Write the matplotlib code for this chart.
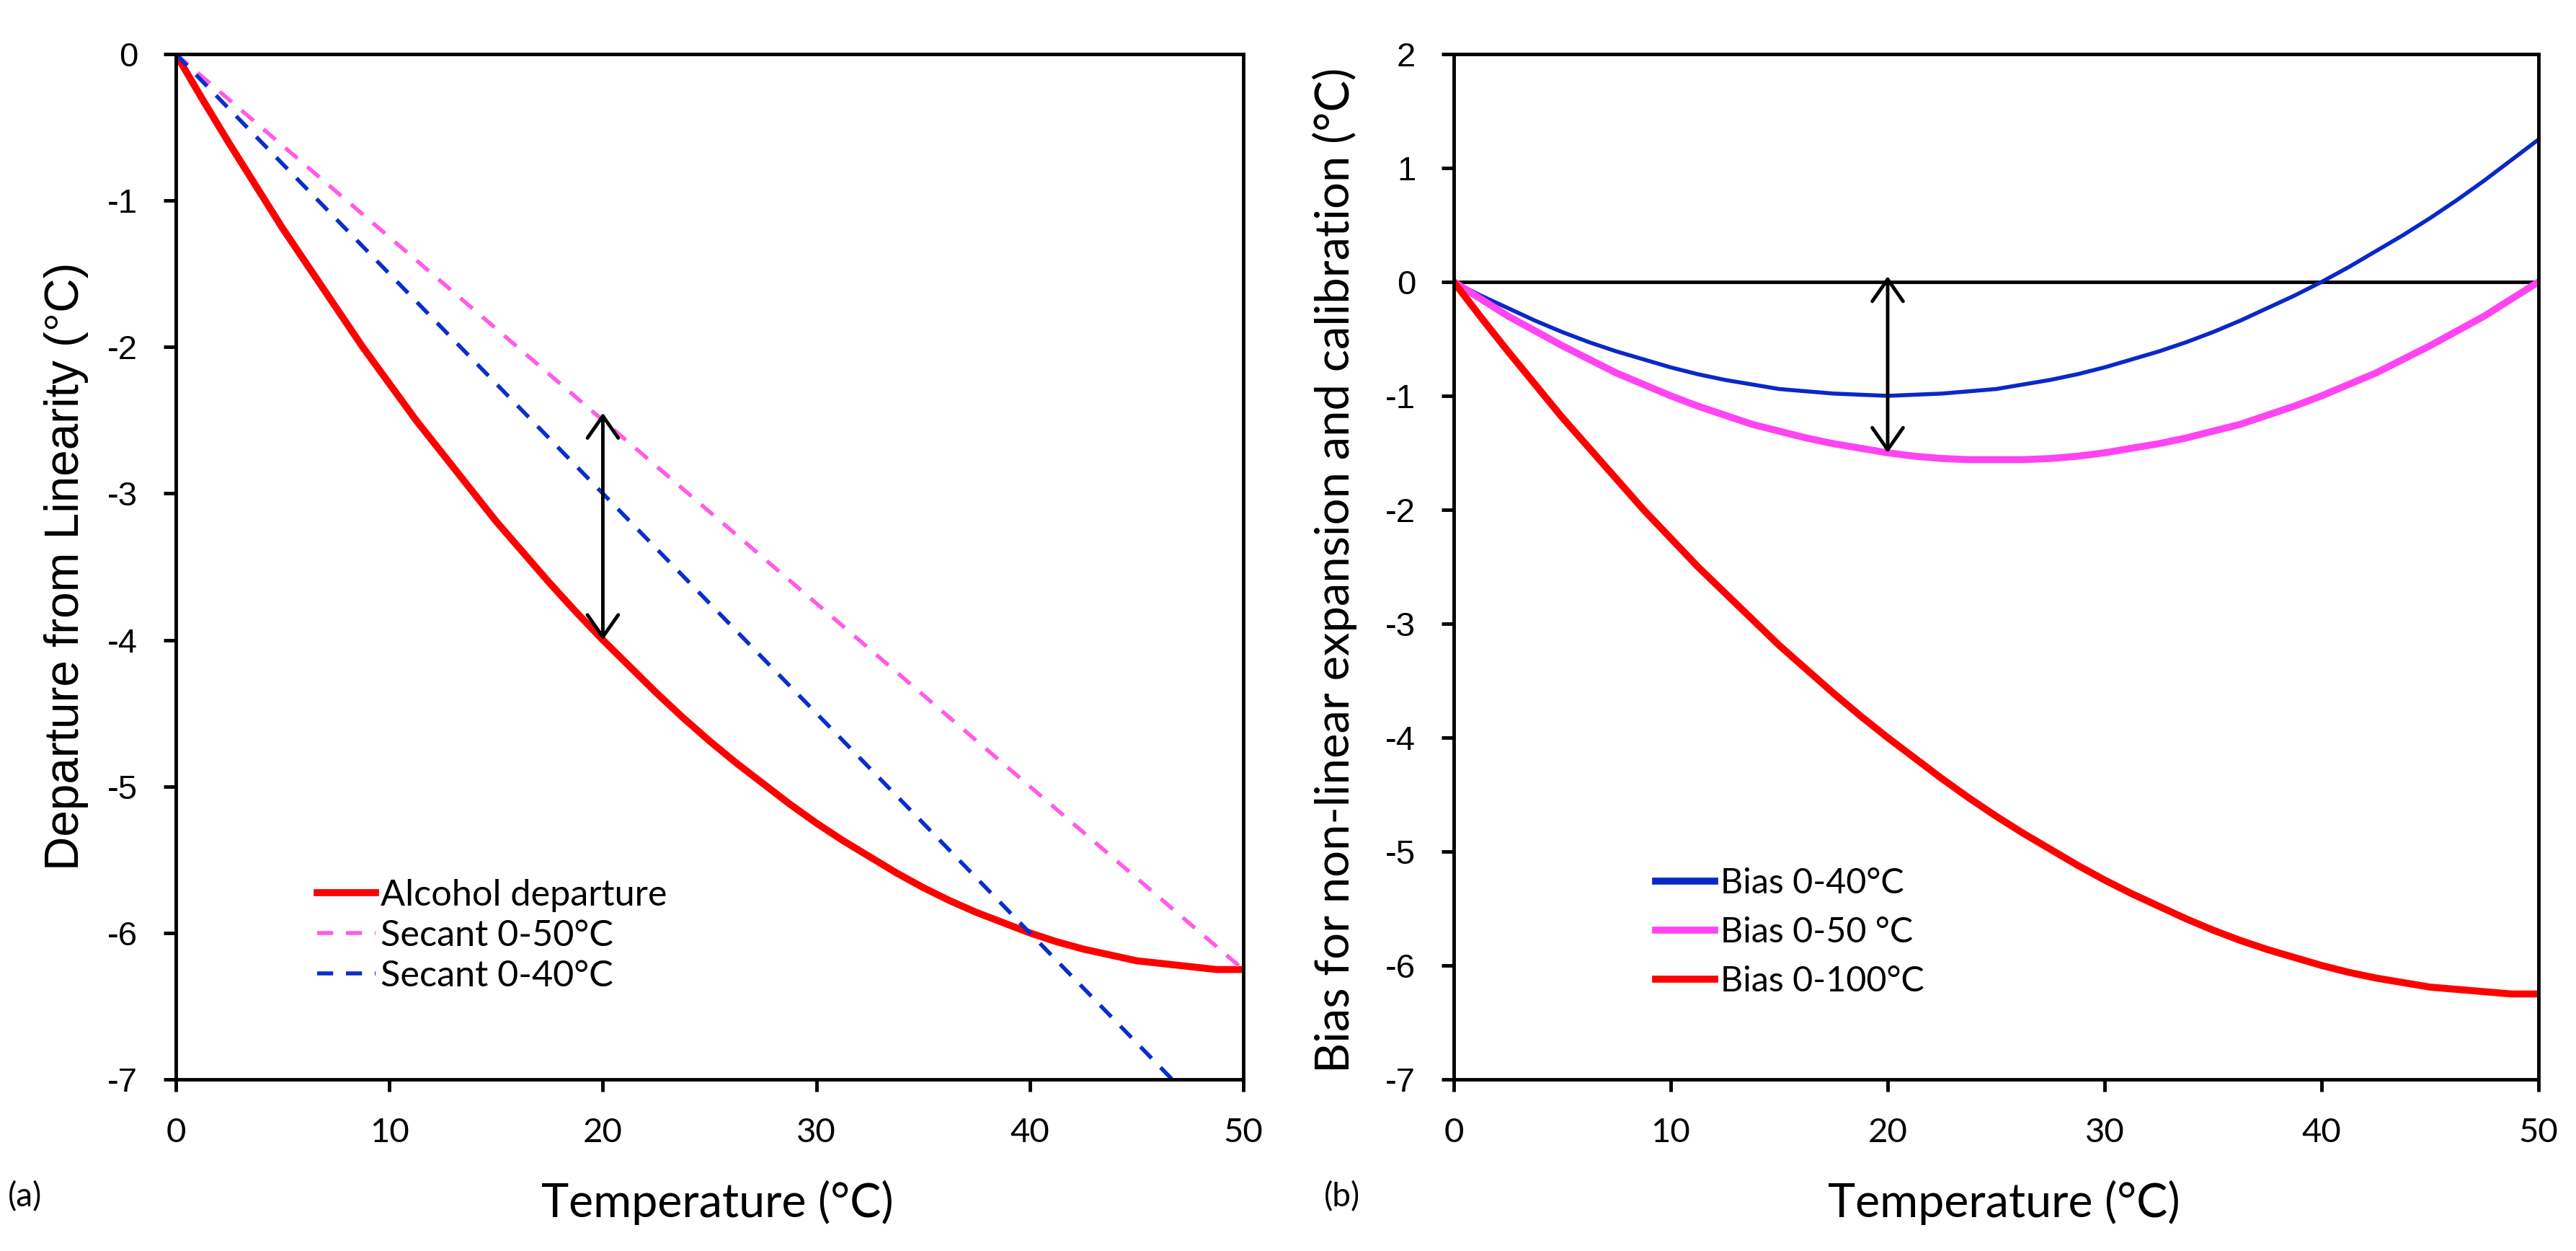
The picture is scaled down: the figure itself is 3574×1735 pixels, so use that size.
import numpy as np
import matplotlib.pyplot as plt

plt.rcParams['font.family'] = ['Lato', 'DejaVu Sans']
plt.rcParams['axes.unicode_minus'] = False

# temperature grid (deg C)
temp = [0, 1.25, 2.5, 3.75, 5, 6.25, 7.5, 8.75, 10, 11.25, 12.5, 13.75, 15,
        16.25, 17.5, 18.75, 20, 21.25, 22.5, 23.75, 25, 26.25, 27.5, 28.75,
        30, 31.25, 32.5, 33.75, 35, 36.25, 37.5, 38.75, 40, 41.25, 42.5,
        43.75, 45, 46.25, 47.5, 48.75, 50]

# (a) departure of the alcohol thermometer from linearity
alcohol_dep = [0, -0.31, -0.61, -0.90, -1.19, -1.46, -1.73, -2.00, -2.25,
               -2.50, -2.73, -2.96, -3.19, -3.40, -3.61, -3.81, -4.00, -4.18,
               -4.36, -4.53, -4.69, -4.84, -4.98, -5.12, -5.25, -5.37, -5.48,
               -5.59, -5.69, -5.78, -5.86, -5.93, -6.00, -6.06, -6.11, -6.15,
               -6.19, -6.21, -6.23, -6.25, -6.25]
secant_x = [0, 50]
secant50 = [0, -6.25]
secant40 = [0, -7.5]

# (b) bias for non-linear expansion and calibration
bias40 = [0, -0.12, -0.23, -0.34, -0.44, -0.53, -0.61, -0.68, -0.75, -0.81,
          -0.86, -0.90, -0.94, -0.96, -0.98, -0.99, -1.00, -0.99, -0.98,
          -0.96, -0.94, -0.90, -0.86, -0.81, -0.75, -0.68, -0.61, -0.53,
          -0.44, -0.34, -0.23, -0.12, 0, 0.13, 0.27, 0.41, 0.56, 0.72, 0.89,
          1.07, 1.25]
bias50 = [0, -0.15, -0.30, -0.43, -0.56, -0.68, -0.80, -0.90, -1.00, -1.09,
          -1.17, -1.25, -1.31, -1.37, -1.42, -1.46, -1.50, -1.53, -1.55,
          -1.56, -1.56, -1.56, -1.55, -1.53, -1.50, -1.46, -1.42, -1.37,
          -1.31, -1.25, -1.17, -1.09, -1.00, -0.90, -0.80, -0.68, -0.56,
          -0.43, -0.30, -0.15, 0]
bias100 = alcohol_dep

xticks = [0, 10, 20, 30, 40, 50]
yticks_a = [0, -1, -2, -3, -4, -5, -6, -7]
yticks_b = [2, 1, 0, -1, -2, -3, -4, -5, -6, -7]

RED = '#ff0000'
PINK_D = '#ff5ce6'
BLUE_D = '#0a2ecc'
PINK = '#ff44f2'
BLUE = '#0a28c8'
ARIAL = ['Liberation Sans', 'DejaVu Sans']

W, H = 3574., 1735.
fig = plt.figure(figsize=(W / 100, H / 100), dpi=100)
renderer = fig.canvas.get_renderer()
ax1 = fig.add_axes([244 / W, 1 - 1497 / H, 1481 / W, 1422 / H])
ax2 = fig.add_axes([2017 / W, 1 - 1497 / H, 1505 / W, 1422 / H])


def fit_size(s, target, rotation=0, **kw):
    # font size that makes string s span `target` pixels
    t = fig.text(0, 0, s, fontsize=40, rotation=rotation, **kw)
    bb = t.get_window_extent(renderer)
    t.remove()
    span = bb.height if rotation else bb.width
    return 40 * target / span


arrow = dict(arrowstyle='<->,head_length=0.4,head_width=0.28', lw=3.5,
             color='black', mutation_scale=55, shrinkA=0, shrinkB=0)

for ax in (ax1, ax2):
    for s in ax.spines.values():
        s.set_linewidth(3.5)
    ax.tick_params(direction='out', length=12, width=3.5, labelsize=34)
    ax.tick_params(axis='y', pad=26)
    ax.tick_params(axis='x', pad=26)
    ax.set_xlim(0, 50)
    ax.set_xticks(xticks)

# ---- panel (a)
ax1.plot(temp, alcohol_dep, color=RED, lw=7, label='Alcohol departure')
ax1.plot(secant_x, secant50, color=PINK_D, lw=4, dashes=(4, 3.2),
         label='Secant 0-50°C')
ax1.plot(secant_x, secant40, color=BLUE_D, lw=4, dashes=(4, 3.2),
         label='Secant 0-40°C')
ax1.annotate('', xy=(20, -4.0), xytext=(20, -2.45), arrowprops=arrow)
ax1.set_ylim(-7, 0)
ax1.set_yticks(yticks_a)
ax1.legend(loc='center left', bbox_to_anchor=(0.1323, 0.140), frameon=False,
           fontsize=fit_size('Alcohol departure', 398), borderpad=0,
           borderaxespad=0, handlelength=1.6, handletextpad=0.15,
           labelspacing=0.2)

# ---- panel (b)
ax2.axhline(0, color='black', lw=3.5, zorder=1.5)
ax2.plot(temp, bias40, color=BLUE, lw=4, label='Bias 0-40°C')
ax2.plot(temp, bias50, color=PINK, lw=7, label='Bias 0-50 °C')
ax2.plot(temp, bias100, color=RED, lw=7, label='Bias 0-100°C')
ax2.annotate('', xy=(20, -1.5), xytext=(20, 0.05), arrowprops=arrow)
ax2.set_ylim(-7, 2)
ax2.set_yticks(yticks_b)
leg = ax2.legend(loc='center left', bbox_to_anchor=(0.186, 0.1435),
                 frameon=False, fontsize=fit_size('Bias 0-40°C', 255),
                 borderpad=0, borderaxespad=0, handlelength=1.7,
                 handletextpad=0.15, labelspacing=0.5)
for ln in leg.get_lines():
    ln.set_linewidth(7)

for ax in (ax1, ax2):
    for t in ax.get_yticklabels():
        t.set_fontfamily(ARIAL)

# axis titles and panel letters
ylab_a = 'Departure from Linearity (°C)'
ylab_b = 'Bias for non-linear expansion and calibration (°C)'
xlab = 'Temperature (°C)'
fig.text(92 / W, 1 - 785 / H, ylab_a, rotation=90, family=ARIAL,
         fontsize=fit_size(ylab_a, 844, rotation=90, family=ARIAL),
         ha='center', va='center')
fig.text(1852 / W, 1 - 791 / H, ylab_b, rotation=90,
         fontsize=fit_size(ylab_b, 1394, rotation=90),
         ha='center', va='center')
xsize = fit_size(xlab, 489)
fig.text(995 / W, 1 - 1668 / H, xlab, fontsize=xsize, ha='center', va='center')
fig.text(2780 / W, 1 - 1668 / H, xlab, fontsize=xsize, ha='center', va='center')
fig.text(35 / W, 1 - 1660 / H, '(a)', fontsize=33, ha='center', va='center')
fig.text(1862 / W, 1 - 1660 / H, '(b)', fontsize=33, ha='center', va='center')

fig.savefig('out.png', dpi=100)
